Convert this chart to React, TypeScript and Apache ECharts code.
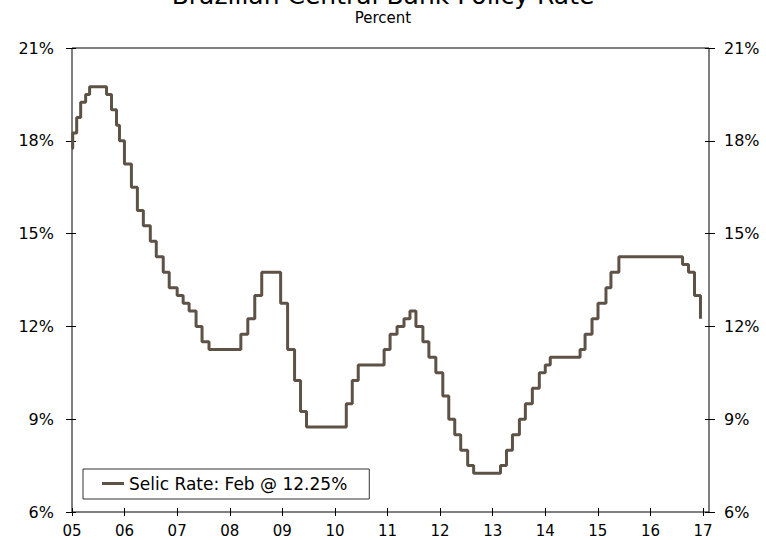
import React, { useEffect, useRef } from "react";
import * as echarts from "echarts";

// Selic policy-rate decisions (date of change, new rate in %)
const startDate = "2005-01-14";
const startRate = 17.75;
const decisionDates = [
  "2005-01-19", "2005-02-16", "2005-03-16", "2005-04-20", "2005-05-18", "2005-09-14",
  "2005-10-19", "2005-11-23", "2005-12-14", "2006-01-18", "2006-03-08", "2006-04-19",
  "2006-05-31", "2006-07-19", "2006-08-30", "2006-10-18", "2006-11-29", "2007-01-24",
  "2007-03-07", "2007-04-18", "2007-06-06", "2007-07-18", "2007-09-05", "2008-04-16",
  "2008-06-04", "2008-07-23", "2008-09-10", "2009-01-21", "2009-03-11", "2009-04-29",
  "2009-06-10", "2009-07-22", "2010-04-28", "2010-06-09", "2010-07-21", "2011-01-19",
  "2011-03-02", "2011-04-20", "2011-06-08", "2011-07-20", "2011-08-31", "2011-10-19",
  "2011-11-30", "2012-01-18", "2012-03-07", "2012-04-18", "2012-05-30", "2012-07-11",
  "2012-08-29", "2012-10-10", "2013-04-17", "2013-05-29", "2013-07-10", "2013-08-28",
  "2013-10-09", "2013-11-27", "2014-01-15", "2014-02-26", "2014-04-02", "2014-10-29",
  "2014-12-03", "2015-01-21", "2015-03-04", "2015-04-29", "2015-06-03", "2015-07-29",
  "2016-10-19", "2016-11-30", "2017-01-11", "2017-02-22",
];
const decisionRates = [
  18.25, 18.75, 19.25, 19.5, 19.75, 19.5,
  19.0, 18.5, 18.0, 17.25, 16.5, 15.75,
  15.25, 14.75, 14.25, 13.75, 13.25, 13.0,
  12.75, 12.5, 12.0, 11.5, 11.25, 11.75,
  12.25, 13.0, 13.75, 12.75, 11.25, 10.25,
  9.25, 8.75, 9.5, 10.25, 10.75, 11.25,
  11.75, 12.0, 12.25, 12.5, 12.0, 11.5,
  11.0, 10.5, 9.75, 9.0, 8.5, 8.0,
  7.5, 7.25, 7.5, 8.0, 8.5, 9.0,
  9.5, 10.0, 10.5, 10.75, 11.0, 11.25,
  11.75, 12.25, 12.75, 13.25, 13.75, 14.25,
  14.0, 13.75, 13.0, 12.25,
];
const seriesName = "Selic Rate: Feb @ 12.25%";
const xTickLabels = ["05", "06", "07", "08", "09", "10", "11", "12", "13", "14", "15", "16", "17"];
const yMin = 6;
const yMax = 21;
const yStep = 3;

const DAY = 86400000;
const FONT = "DejaVu Sans";

export default function App() {
  const ref = useRef<HTMLDivElement>(null);

  useEffect(() => {
    document.body.style.margin = "0";
    if (!ref.current) return;
    const chart = echarts.init(ref.current, undefined, { renderer: "svg" });

    const xMin = Date.parse(startDate);
    const tickStep = 370 * DAY;
    const xMax = xMin + 4482 * DAY;
    const tickValues = xTickLabels.map((_, i) => xMin + i * tickStep);
    const labelFor = (v: number) => {
      const i = Math.round((v - xMin) / tickStep);
      return xTickLabels[i] ?? "";
    };

    const data: [number, number][] = [[xMin, startRate]];
    decisionDates.forEach((d, i) => data.push([Date.parse(d), decisionRates[i]]));

    const baseX = {
      type: "value" as const,
      position: "bottom" as const,
      min: xMin,
      max: xMax,
      splitLine: { show: false },
      axisLine: { show: false, onZero: false },
    };
    const baseY = {
      type: "value" as const,
      min: yMin,
      max: yMax,
      interval: yStep,
      splitLine: { show: false },
      axisLine: { show: false, onZero: false },
    };
    const yLabelStyle = { color: "#000", fontSize: 16, fontFamily: FONT };
    const xLabelStyle = { color: "#000", fontSize: 15, fontFamily: FONT };

    chart.setOption({
      animation: false,
      backgroundColor: "#fff",
      textStyle: { fontFamily: FONT },
      title: [
        {
          text: "Brazilian Central Bank Policy Rate",
          left: "center",
          top: -17,
          padding: 0,
          textStyle: { fontSize: 25, fontWeight: "normal", color: "#000", fontFamily: FONT },
        },
        {
          text: "Percent",
          left: "center",
          top: 10,
          padding: 0,
          textStyle: { fontSize: 15, fontWeight: "normal", color: "#000", fontFamily: FONT },
        },
      ],
      grid: {
        left: 72,
        right: 57,
        top: 48,
        bottom: 28,
        show: true,
        borderColor: "#000",
        borderWidth: 1,
        backgroundColor: "transparent",
      },
      legend: {
        data: [seriesName],
        left: 83,
        top: 469,
        orient: "horizontal",
        icon: "rect",
        itemWidth: 22,
        itemHeight: 3,
        padding: [6, 22, 7, 19],
        borderColor: "#333",
        borderWidth: 1,
        backgroundColor: "#fff",
        selectedMode: false,
        textStyle: { color: "#000", fontSize: 17, fontFamily: FONT },
      },
      xAxis: [
        {
          ...baseX,
          axisTick: { show: true, length: 4, inside: false, customValues: tickValues, lineStyle: { color: "#000" } },
          axisLabel: { show: true, customValues: tickValues, formatter: labelFor, margin: 11, ...xLabelStyle },
        },
        {
          ...baseX,
          axisTick: { show: true, length: 4, inside: true, customValues: tickValues, lineStyle: { color: "#000" } },
          axisLabel: { show: false },
        },
      ],
      yAxis: [
        {
          ...baseY,
          position: "left",
          axisTick: { show: true, length: 6, inside: false, lineStyle: { color: "#000" } },
          axisLabel: { show: true, formatter: "{value}%", margin: 18, ...yLabelStyle },
        },
        {
          ...baseY,
          position: "right",
          axisTick: { show: true, length: 6, inside: false, lineStyle: { color: "#000" } },
          axisLabel: { show: true, formatter: "{value}%", margin: 15, ...yLabelStyle },
        },
        {
          ...baseY,
          position: "left",
          axisTick: { show: true, length: 4, inside: true, lineStyle: { color: "#000" } },
          axisLabel: { show: false },
        },
        {
          ...baseY,
          position: "right",
          axisTick: { show: true, length: 4, inside: true, lineStyle: { color: "#000" } },
          axisLabel: { show: false },
        },
      ],
      series: [
        {
          name: seriesName,
          type: "line",
          step: "end",
          xAxisIndex: 0,
          yAxisIndex: 0,
          showSymbol: false,
          symbol: "none",
          data,
          itemStyle: { color: "#5e5246" },
          lineStyle: { color: "#5e5246", width: 3 },
        },
      ],
    });

    return () => chart.dispose();
  }, []);

  return <div ref={ref} style={{ width: 766, height: 540 }} />;
}
